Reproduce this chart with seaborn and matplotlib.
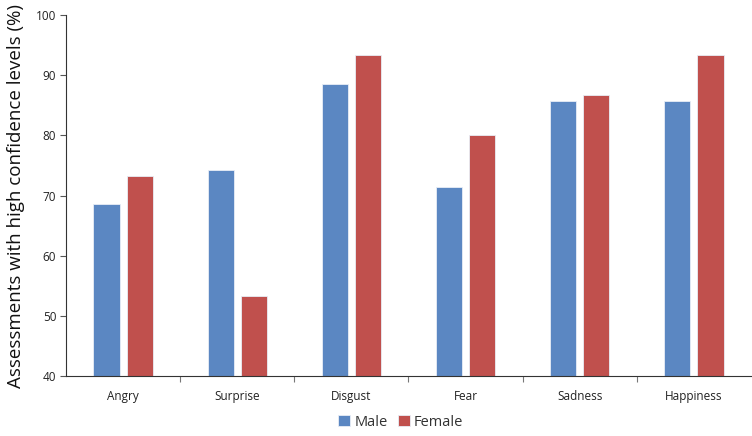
import matplotlib
matplotlib.use("Agg")
import matplotlib.pyplot as plt
import seaborn as sns
import pandas as pd
import numpy as np
from matplotlib.ticker import FixedLocator

categories = ["Angry", "Surprise", "Disgust", "Fear", "Sadness", "Happiness"]
male = [68.6, 74.3, 88.6, 71.4, 85.7, 85.7]
female = [73.3, 53.3, 93.3, 80.0, 86.7, 93.3]
series = ["Male", "Female"]
colors = ["#5B87C2", "#C0504D"]

df = pd.DataFrame({
    "Emotion": categories * 2,
    "Value": male + female,
    "Sex": ["Male"] * len(categories) + ["Female"] * len(categories),
})

sns.set_style("white")
plt.rcParams["font.family"] = ["Open Sans", "DejaVu Sans"]

fig = plt.figure(figsize=(7.52, 4.36), dpi=100)
ax = fig.add_axes([66 / 752, 1 - 376 / 436, 685 / 752, 361 / 436])

sns.barplot(data=df, x="Emotion", y="Value", hue="Sex", hue_order=series,
            order=categories, palette=colors, saturation=1, width=0.58, gap=0.21,
            edgecolor="#e8eef6", linewidth=0.6, ax=ax, legend=True)

ax.set_ylim(40, 100)
ax.set_xlim(-0.5, len(categories) - 0.5)
ax.set_yticks(np.arange(40, 101, 10))
ax.tick_params(axis="y", labelsize=8.5, length=4, width=0.8, color="#555555",
               direction="out", left=True, pad=3, labelcolor="#222222")
ax.tick_params(axis="x", which="major", labelsize=8.5, length=0, pad=10,
               labelcolor="#222222")
ax.xaxis.set_minor_locator(FixedLocator(np.arange(0.5, len(categories) - 0.5, 1)))
ax.tick_params(axis="x", which="minor", length=4, width=0.8, color="#777777",
               direction="out", bottom=True)
for s in ["top", "right"]:
    ax.spines[s].set_visible(False)
ax.spines["left"].set_color("#333333")
ax.spines["bottom"].set_color("#333333")
ax.spines["left"].set_linewidth(0.8)
ax.spines["bottom"].set_linewidth(0.8)

ax.set_xlabel("")
ax.set_ylabel("Assessments with high confidence levels (%)", fontsize=13.5,
              color="#111111", labelpad=8)

handles, labels = ax.get_legend_handles_labels()
ax.get_legend().remove()
fig.legend(handles, labels, loc="center", bbox_to_anchor=(0.533, 0.032),
           ncol=2, frameon=False, fontsize=10.5, handlelength=0.8,
           handleheight=0.8, handletextpad=0.3, columnspacing=0.7,
           labelcolor="#333333")

fig.savefig("out.png", dpi=100)
